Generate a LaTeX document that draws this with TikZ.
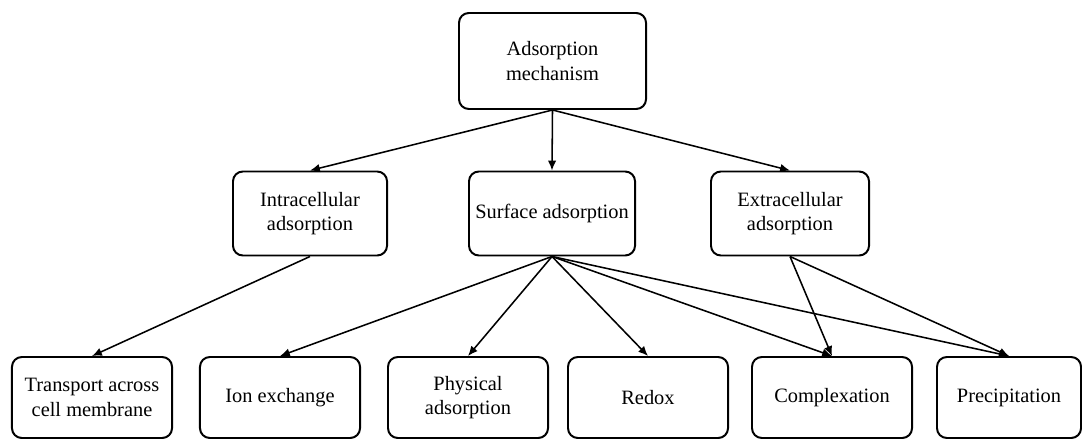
\documentclass[tikz,border=0pt]{standalone}
\usepackage{fontspec}
\setmainfont{Liberation Serif}
\usetikzlibrary{arrows.meta,positioning}

\begin{document}
\begin{tikzpicture}[x=0.025cm,y=-0.025cm]

\tikzset{mechBox/.style={draw, line width=1.4pt, rounded corners=7pt, align=center,
   font=\fontsize{14.5}{17.5}\selectfont, inner sep=2pt, minimum width=#1},
mechBox/.default={4cm},
flowArrow/.style={-{Latex[length=7pt,width=6pt]}, line width=1.1pt}}

\useasboundingbox (0,0) rectangle (1082,439);

%top and middle row
\node[mechBox=4.675cm, minimum height=2.4cm] (mech) at (552.5,61) {Adsorption\\mechanism};
\node[mechBox=3.85cm, minimum height=2.1cm] (intra) at (310,213.5) {Intracellular\\adsorption};
\node[mechBox=4.15cm, minimum height=2.1cm] (surf) at (552,213.5) {Surface adsorption};
\node[mechBox=3.95cm, minimum height=2.1cm] (extra) at (790,213.5) {Extracellular\\adsorption};

%bottom row
\foreach \name/\x/\w/\txt in {trans/92/4cm/Transport across\\cell membrane, ion/280/4cm/Ion exchange,
   phys/468/4cm/Physical\\adsorption, redox/648/4cm/Redox, compl/832/4cm/Complexation,
   precip/1009/3.6cm/Precipitation}
  \node[mechBox=\w, minimum height=2.025cm] (\name) at (\x,397.5) {\txt};

\draw[flowArrow] (mech.south) -- (intra.north);
\draw[flowArrow] (mech.south) -- (surf.north);
\draw[flowArrow] (mech.south) -- (extra.north);

\draw[flowArrow] (intra.south) -- (trans.north);

\foreach \b in {ion, phys, redox, compl, precip}
  \draw[flowArrow] (surf.south) -- (\b.north);

\draw[flowArrow] (extra.south) -- (compl.north);
\draw[flowArrow] (extra.south) -- (precip.north);

\end{tikzpicture}
\end{document}
